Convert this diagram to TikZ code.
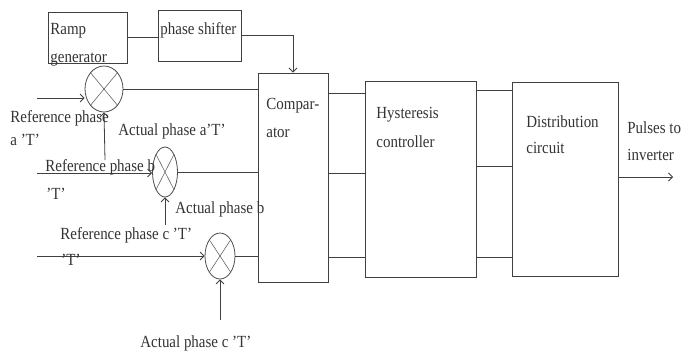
\documentclass[tikz,border=0pt]{standalone}
\usepackage{fontspec}
\setmainfont{Liberation Serif}[FakeStretch=0.88]
\usetikzlibrary{arrows.meta,shapes.geometric}
\begin{document}
\begin{tikzpicture}[x=1pt,y=-1pt,
  line width=0.8pt, draw=black!75,
  blk/.style={draw=black!75, line width=0.9pt, rectangle, inner sep=0pt},
  summer/.style={draw=black!70, ellipse, inner sep=0pt, line width=0.8pt},
  lbl/.style={inner sep=0pt, anchor=west, text=black!80, font=\fontsize{17}{17}\selectfont},
  arr/.style={-{Straight Barb[length=4pt,width=8pt]}},
  wire/.style={draw=black!75, line width=0.8pt}]
\useasboundingbox (0,0) rectangle (682,354);

% blocks
\node[blk, minimum width=79pt, minimum height=51pt] (ramp) at (87.5,37.5) {};
\node[blk, minimum width=83pt, minimum height=51pt] (ps) at (199.5,35.5) {};
\node[blk, minimum width=70pt, minimum height=209pt] (comp) at (293,177.5) {};
\node[blk, minimum width=111pt, minimum height=196pt] (hyst) at (420.5,179) {};
\node[blk, minimum width=106pt, minimum height=194pt] (dist) at (565,179) {};

% block texts
\node[lbl] (tramp) at (50,31) {Ramp};
\node[lbl] (tgen) at (50,60) {generator};
\node[lbl] (tps) at (160,30) {phase shifter};
\node[lbl] (tcomp1) at (266,106) {Compar-};
\node[lbl] (tcomp2) at (266,133) {ator};
\node[lbl] (thy1) at (376,115) {Hysteresis};
\node[lbl] (thy2) at (376,142) {controller};
\node[lbl] (tdi1) at (526,122) {Distribution};
\node[lbl] (tdi2) at (526,148) {circuit};
\node[lbl] (tpu1) at (627,128) {Pulses to};
\node[lbl] (tpu2) at (627,155) {inverter};

% summers
\node[summer, minimum width=38pt, minimum height=46pt] (sa) at (104,89) {};
\node[summer, minimum width=25pt, minimum height=50pt] (sb) at (165,172) {};
\node[summer, minimum width=30pt, minimum height=46pt] (sc) at (220,256) {};
\foreach \s in {sa,sb,sc}{
  \draw[wire, draw=black!60, line width=0.6pt] (\s.north west) -- (\s.south east);
  \draw[wire, draw=black!60, line width=0.6pt] (\s.north east) -- (\s.south west);
}

% input coordinates
\coordinate (inA) at (37,98);
\coordinate (inB) at (37,173);
\coordinate (inC) at (37,256);
\coordinate (actA) at (105,160);
\coordinate (actB) at (165,225);
\coordinate (actC) at (220,320);
\coordinate (out) at (673,177);

% connectors
\draw[wire, arr] (inA) -- (inA -| sa.west);
\draw[wire, arr] (inB) -- (inB -| sb.west);
\draw[wire, arr] (inC) -- (sc.west);
\draw[wire, arr] (actA) -- (sa.south);
\draw[wire, arr] (actB) -- (sb.south);
\draw[wire, arr] (actC) -- (sc.south);
\draw[wire] (sa.east) -- (sa.east -| comp.west);
\draw[wire] (sb.east) -- (sb.east -| comp.west);
\draw[wire] (sc.east) -- (sc.east -| comp.west);

\draw[wire] (ramp.east) -- (ramp.east -| ps.west);
\draw[wire, arr] (ps.east) -| (comp.north);

\foreach \y in {93,173,257}{
  \draw[wire] (comp.east |- 0,\y) -- (hyst.west |- 0,\y);
}
\foreach \y in {90,166,257}{
  \draw[wire] (hyst.east |- 0,\y) -- (dist.west |- 0,\y);
}
\draw[wire, arr] (dist.east |- out) -- (out);

% labels
\node[lbl] (la1) at (10,118) {Reference phase};
\node[lbl] (la2) at (10,140) {a 'T'};
\node[lbl] (laa) at (118,131) {Actual phase a'T'};
\node[lbl] (lb1) at (45,167) {Reference phase b};
\node[lbl] (lb2) at (46,194) {'T'};
\node[lbl] (lba) at (175,209) {Actual phase b};
\node[lbl] (lc1) at (60,235) {Reference phase c 'T'};
\node[lbl] (lc2) at (61,260) {'T'};
\node[lbl] (lca) at (140,343) {Actual phase c 'T'};
\end{tikzpicture}
\end{document}
